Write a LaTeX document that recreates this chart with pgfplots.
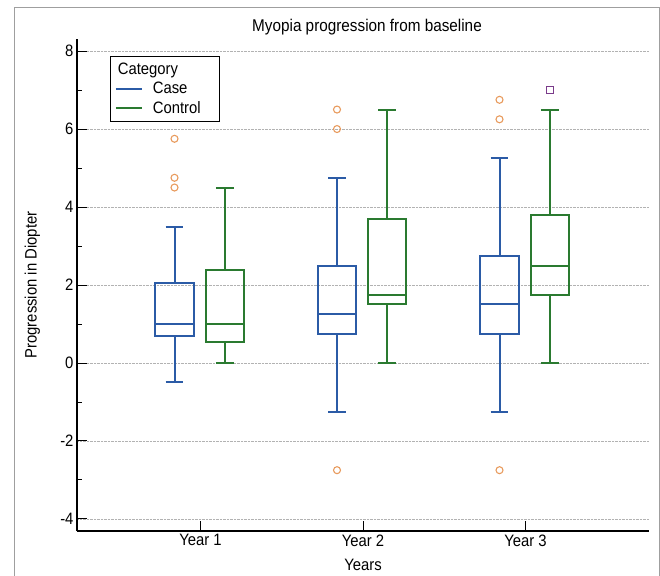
\documentclass[border=0pt]{standalone}
\usepackage{pgfplots}
\pgfplotsset{compat=1.18}
\usepgfplotslibrary{statistics}
\usepackage{fontspec}
\setmainfont[FakeStretch=0.9]{Liberation Sans}
\definecolor{casecol}{HTML}{2B5BA6}
\definecolor{ctrlcol}{HTML}{2A7A30}
\definecolor{outcol}{HTML}{E89B5E}
\definecolor{sqcol}{HTML}{7A3B8A}
\newcommand{\fs}{\fontsize{16.5}{18}\selectfont}
\begin{document}
\begin{tikzpicture}
\useasboundingbox (0,0) rectangle (660pt,575pt);
\draw[gray!75, line width=1pt] (14pt,-5pt) -- (14pt,567pt) -- (659pt,567pt) -- (659pt,-5pt);
\node[font=\fontsize{17}{19}\selectfont, anchor=center, inner sep=0pt] at (367pt,548pt) {Myopia progression from baseline};
\begin{axis}[
  at={(77pt,44pt)}, anchor=south west,
  scale only axis, width=572pt, height=492pt,
  xmin=0.24, xmax=3.76, ymin=-4.31, ymax=8.31,
  axis lines*=left,
  axis line style={line width=2.4pt, black},
  xtick={1,2,3}, xticklabels={Year 1,Year 2,Year 3},
  ytick={-4,-2,0,2,4,6,8},
  minor y tick num=1,
  tick align=inside,
  major tick length=10pt, minor tick length=5pt,
  tick style={black, line width=0.9pt},
  ymajorgrids,
  grid style={densely dotted, gray!60, line width=0.6pt},
  /pgf/number format/assume math mode=true,
  tick label style={font=\fs},
  label style={font=\fs},
  xlabel={Years},
  xlabel style={at={(axis description cs:0.5,-0.069)}, anchor=center},
  ylabel={Progression in Diopter},
  ylabel style={at={(axis description cs:-0.078,0.5)}, anchor=center},
  legend style={at={(0.058,0.965)}, anchor=north west, draw=black, line width=1.2pt,
    font=\fs, inner xsep=4pt, inner ysep=4.5pt, column sep=8pt, row sep=2pt},
  legend cell align=left,
  legend image code/.code={\draw[#1] (0cm,0cm) -- (0.9cm,0cm);},
  boxplot/draw direction=y,
  boxplot/every box/.style={line width=2pt},
  boxplot/every whisker/.style={line width=2pt},
  boxplot/every median/.style={line width=2pt},
  boxplot/box extend=0.234,
  boxplot/whisker extend=0.11,
]
% Year 1
\addplot[forget plot, casecol, line width=2pt, boxplot prepared={draw position=0.84, lower whisker=-0.5, lower quartile=0.68, median=1.0, upper quartile=2.06, upper whisker=3.5}] coordinates {};
\addplot[forget plot, ctrlcol, line width=2pt, boxplot prepared={draw position=1.15, lower whisker=0, lower quartile=0.55, median=1.0, upper quartile=2.38, upper whisker=4.5}] coordinates {};
% Year 2
\addplot[forget plot, casecol, line width=2pt, boxplot prepared={draw position=1.84, lower whisker=-1.25, lower quartile=0.75, median=1.25, upper quartile=2.5, upper whisker=4.75}] coordinates {};
\addplot[forget plot, ctrlcol, line width=2pt, boxplot prepared={draw position=2.15, lower whisker=0, lower quartile=1.5, median=1.75, upper quartile=3.7, upper whisker=6.5}] coordinates {};
% Year 3
\addplot[forget plot, casecol, line width=2pt, boxplot prepared={draw position=2.84, lower whisker=-1.25, lower quartile=0.75, median=1.5, upper quartile=2.75, upper whisker=5.25}] coordinates {};
\addplot[forget plot, ctrlcol, line width=2pt, boxplot prepared={draw position=3.15, lower whisker=0, lower quartile=1.75, median=2.5, upper quartile=3.8, upper whisker=6.5}] coordinates {};
% outliers
\addplot[forget plot, only marks, mark=o, mark size=3.5pt, draw=outcol, mark options={line width=1.1pt}] coordinates {
(0.84,5.75) (0.84,4.75) (0.84,4.5)
(1.84,6.5) (1.84,6.0) (1.84,-2.75)
(2.84,6.75) (2.84,6.25) (2.84,-2.75)};
\addplot[forget plot, only marks, mark=square, mark size=3.5pt, draw=sqcol, mark options={line width=1.1pt}] coordinates {(3.15,7.0)};
\addlegendimage{empty legend}
\addlegendentry{\hspace{-35pt}Category}
\addlegendimage{casecol, line width=2.4pt}
\addlegendentry{Case}
\addlegendimage{ctrlcol, line width=2.4pt}
\addlegendentry{Control\rule{13pt}{0pt}}
\end{axis}
\end{tikzpicture}
\end{document}
